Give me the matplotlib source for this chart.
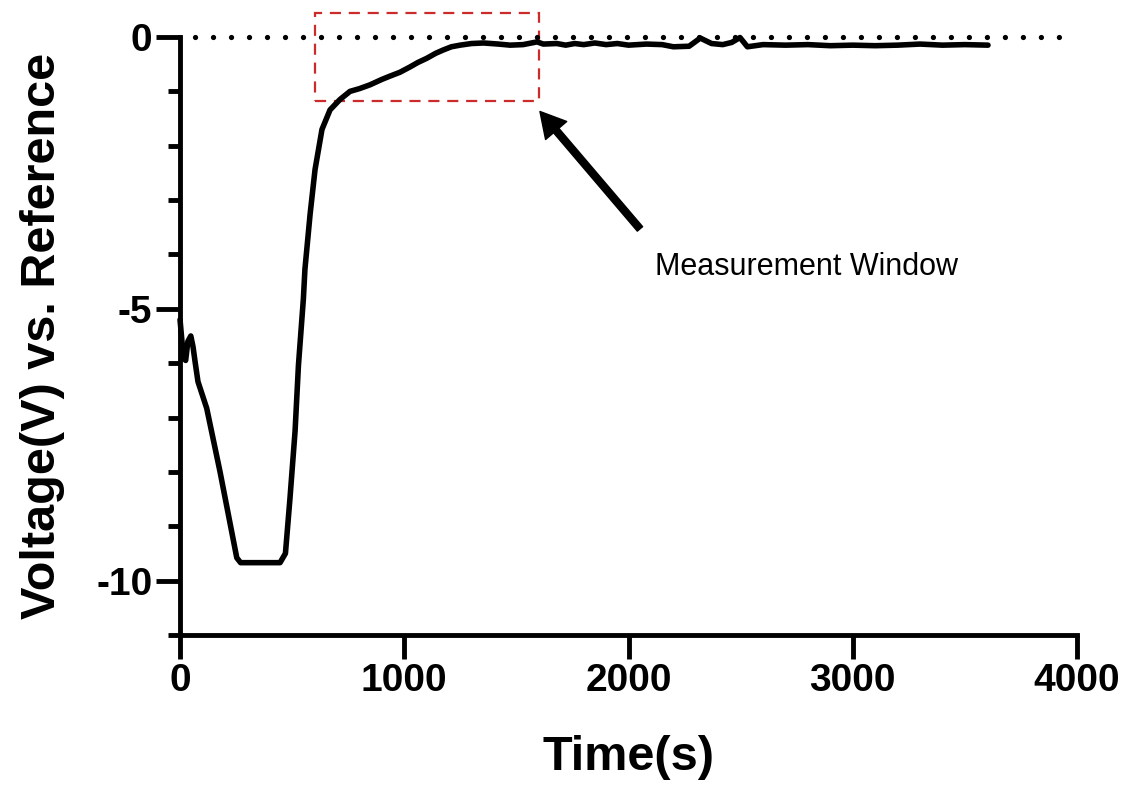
import matplotlib
matplotlib.use('Agg')
import matplotlib.pyplot as plt
from matplotlib.patches import Rectangle
from matplotlib.ticker import MultipleLocator

plt.rcParams['font.family'] = ['Liberation Sans', 'DejaVu Sans']
plt.rcParams['axes.unicode_minus'] = False

# time (s) and voltage (V)
time_s = [0, 15, 25, 35, 48, 58, 67, 80, 119, 178, 253, 270, 446, 470, 490, 513,
          528, 550, 557, 580, 602, 633, 669, 713, 758, 800, 847, 900, 936, 980,
          1026, 1060, 1101, 1140, 1173, 1210, 1249, 1300, 1353, 1420, 1472, 1530,
          1592, 1620, 1680, 1720, 1760, 1800, 1850, 1900, 1950, 2000, 2080, 2150,
          2200, 2270, 2320, 2370, 2420, 2460, 2497, 2530, 2600, 2700, 2800, 2900,
          3000, 3100, 3200, 3300, 3400, 3500, 3603]
voltage = [-5.2, -5.9, -5.95, -5.6, -5.5, -5.7, -5.97, -6.34, -6.83, -7.99, -9.58,
           -9.67, -9.67, -9.5, -8.5, -7.25, -6.04, -4.82, -4.27, -3.26, -2.44, -1.70,
           -1.34, -1.15, -1.0, -0.95, -0.88, -0.78, -0.72, -0.65, -0.55, -0.47, -0.39,
           -0.30, -0.24, -0.18, -0.15, -0.12, -0.11, -0.13, -0.15, -0.14, -0.09, -0.13,
           -0.12, -0.15, -0.12, -0.14, -0.11, -0.14, -0.12, -0.15, -0.13, -0.14, -0.18,
           -0.17, -0.02, -0.12, -0.14, -0.10, -0.01, -0.18, -0.14, -0.15, -0.14, -0.16,
           -0.15, -0.16, -0.15, -0.13, -0.15, -0.14, -0.15]

window_t = (600, 1600)
window_v = (-1.17, 0.44)
x_ticks = [0, 1000, 2000, 3000, 4000]
y_ticks = [-10, -5, 0]

fig = plt.figure(figsize=(11.33, 7.94), dpi=100)
ax = fig.add_axes([0.1589, 0.2003, 0.7917, 0.7531])

ax.plot([65, 3930], [0, 0], color='black', lw=3.8, dashes=(0.01, 3.4),
        dash_capstyle='round', clip_on=False)
ax.plot(time_s, voltage, color='black', lw=4, solid_capstyle='round',
        solid_joinstyle='round', clip_on=False)

rect = Rectangle((window_t[0], window_v[0]), window_t[1] - window_t[0],
                 window_v[1] - window_v[0], fill=False, edgecolor='#cc2b2b',
                 lw=1.6, ls=(0, (5, 3.5)), clip_on=False)
ax.add_patch(rect)

ax.annotate('', xy=(1605, -1.37), xytext=(2051, -3.53),
            arrowprops=dict(facecolor='black', edgecolor='black', width=5,
                            headwidth=20, headlength=18))
ax.text(2118, -4.23, 'Measurement Window', fontsize=22, ha='left', va='center')

ax.set_xlim(0, 4000)
ax.set_ylim(-11, 0)
ax.set_xticks(x_ticks)
ax.set_yticks(y_ticks)
ax.yaxis.set_minor_locator(MultipleLocator(1))
ax.tick_params(axis='both', which='major', length=17, width=3.5, labelsize=28,
               pad=3)
ax.tick_params(axis='y', which='minor', length=9, width=3.5)
for lab in ax.get_xticklabels() + ax.get_yticklabels():
    lab.set_fontweight('bold')

for side in ['top', 'right']:
    ax.spines[side].set_visible(False)
for side in ['left', 'bottom']:
    ax.spines[side].set_linewidth(3.5)

ax.set_xlabel('Time(s)', fontsize=35, fontweight='bold', labelpad=26)
ax.set_ylabel('Voltage(V) vs. Reference', fontsize=35, fontweight='bold',
              labelpad=22)

fig.savefig('out.png', dpi=100)
